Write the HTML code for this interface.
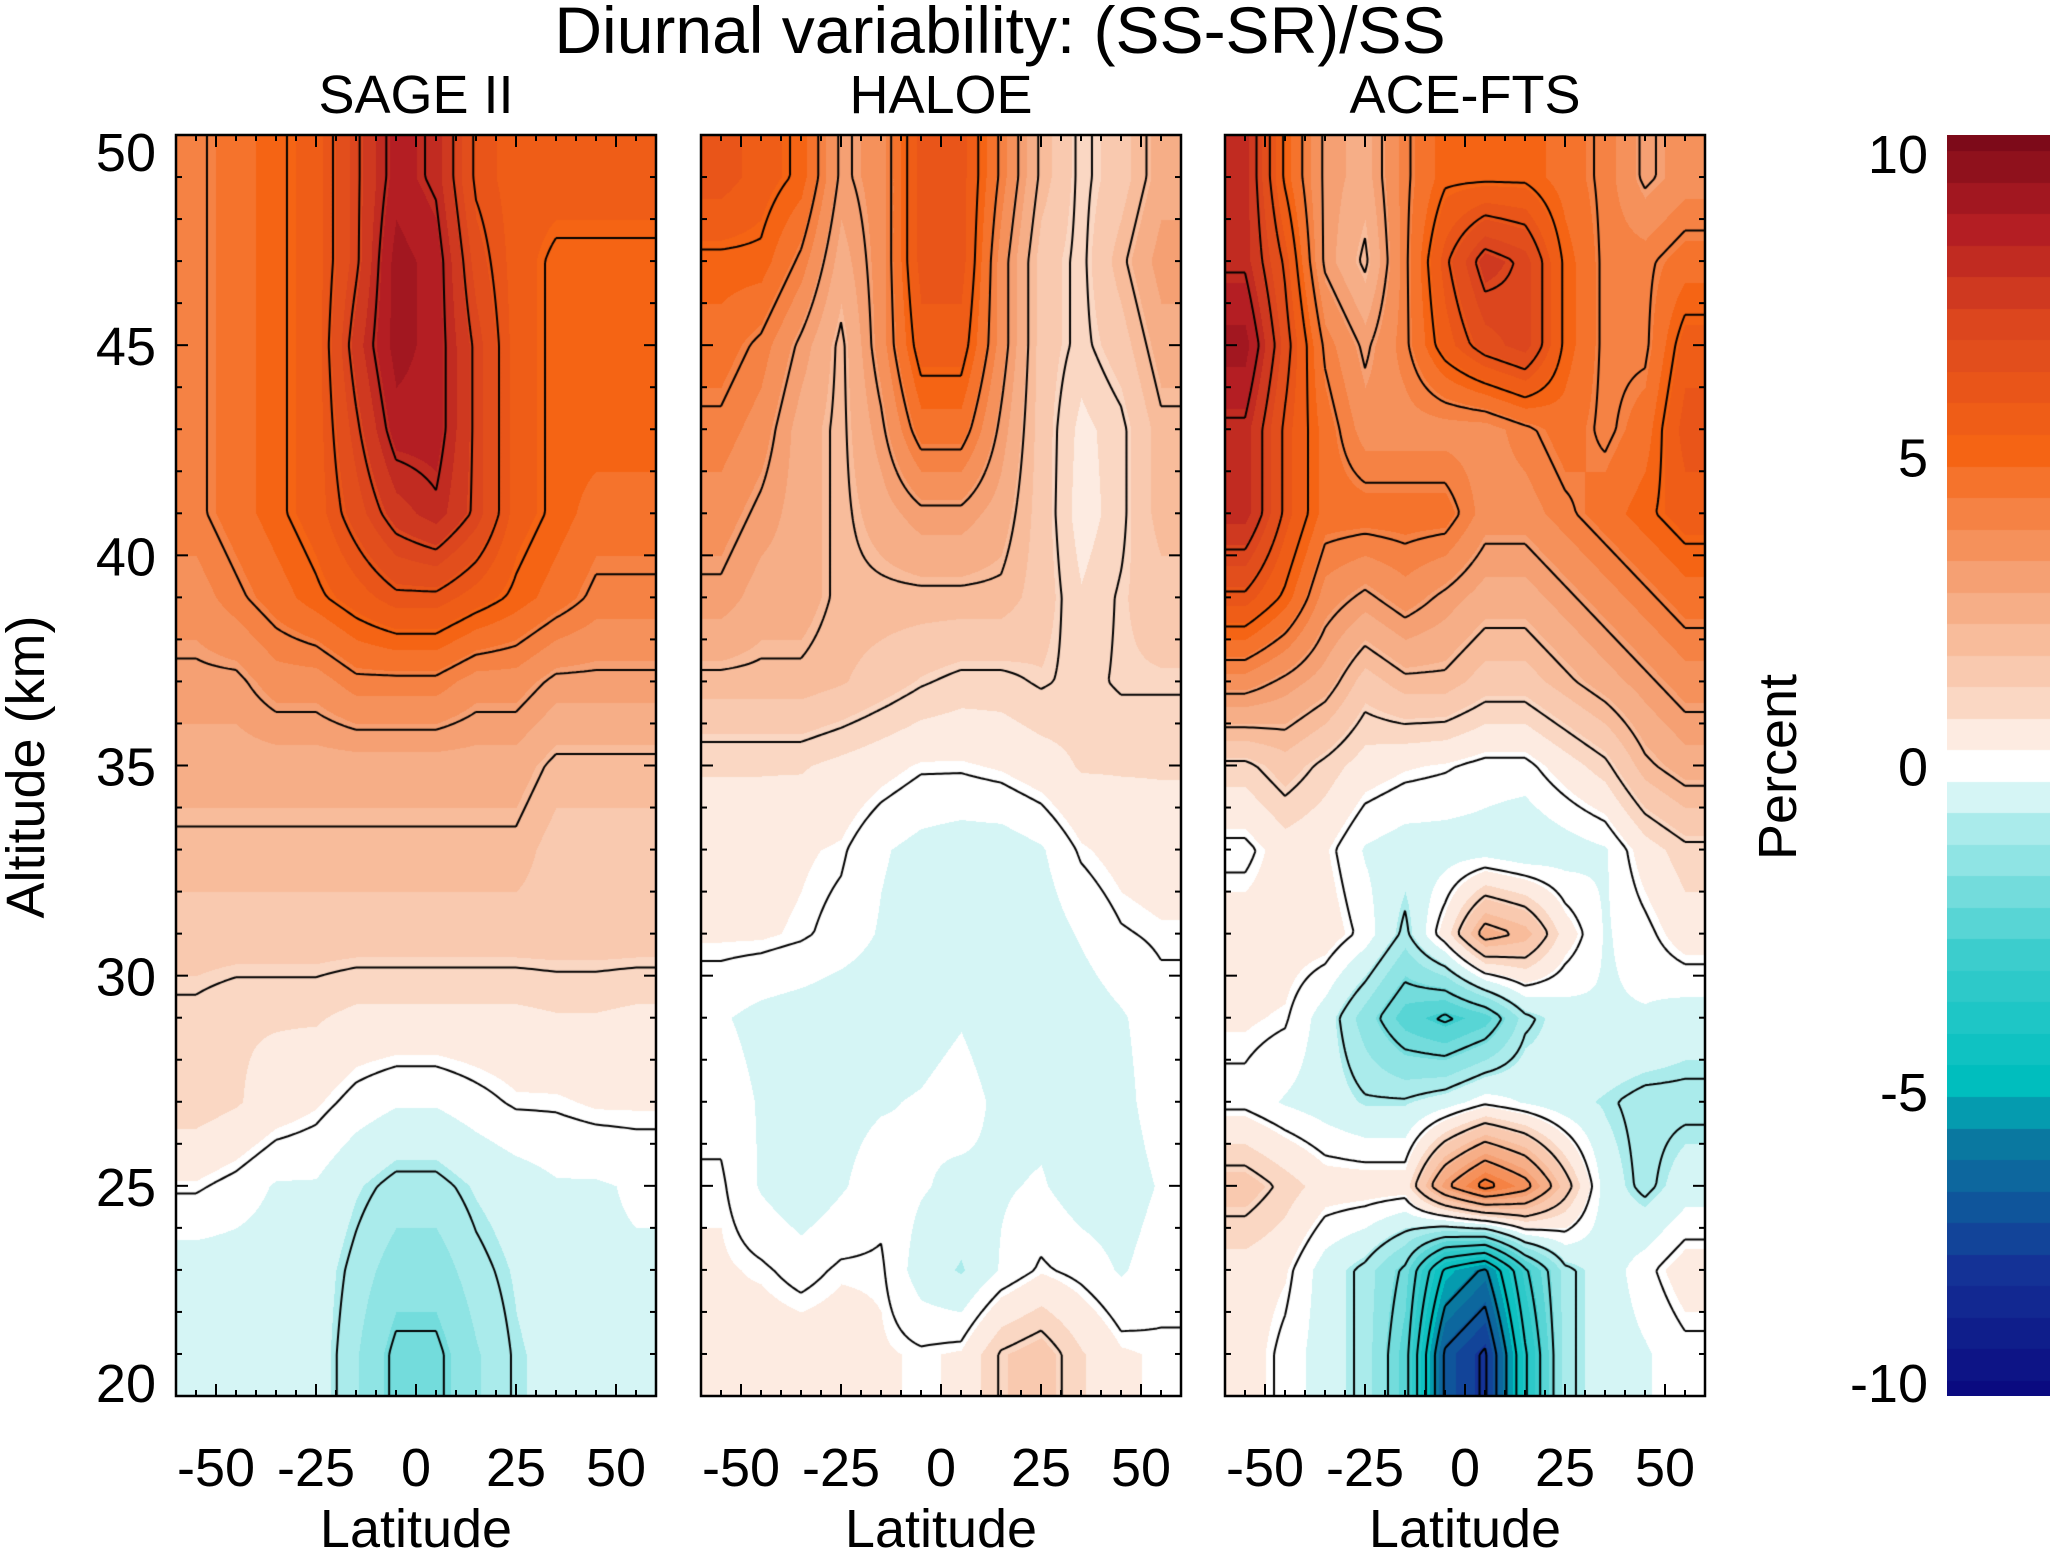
<!DOCTYPE html>
<html><head><meta charset="utf-8"><style>
body{margin:0;background:#fff;}
#wrap{position:relative;width:2050px;height:1551px;overflow:hidden;font-family:"Liberation Sans",sans-serif;color:#000;}
.t{position:absolute;white-space:nowrap;}
canvas{position:absolute;}
</style></head><body>
<div id="wrap">
<div class="t" style="left:0;width:2000px;text-align:center;top:-8px;font-size:66px;">Diurnal variability: (SS-SR)/SS</div>
<div class="t" style="left:26px;top:767px;font-size:54px;transform:translate(-50%,-50%) rotate(-90deg);">Altitude (km)</div>
<div class="t" style="left:1778px;top:767px;font-size:54px;transform:translate(-50%,-50%) rotate(-90deg);">Percent</div>
<canvas id="cb" width="103" height="1261" style="left:1947px;top:135px;"></canvas>
<svg id="svg" width="2050" height="1551" style="position:absolute;left:0;top:0"></svg>
</div>
<script>
const lats=[-55,-45,-35,-25,-15,-5,5,15,25,35,45,55];
const alts=[49,47,45,43,41,39,37,35,33,31,29,27,25,23,21];
const sage=[
[4,4.5,5,5.5,7,8.5,8,6,5.5,5.5,5.5,5.5],
[4,4.5,5,5.5,7,9,8.5,6.5,5.5,5,5,5],
[4,4.5,5,5.5,7.5,9,8.5,7,5.5,5,5,5],
[4,4.5,5,5.5,7,8.5,8.5,7,5.5,5,5,5],
[4,4.5,5,5.5,6.5,7.5,8,7,5.5,5,4.5,4.5],
[3.5,4,4.5,5,5.5,6,6,5.5,5,4.5,4,4],
[3,3,3.5,3.5,4,4,4,3.5,3.5,3,3,3],
[2.5,2.5,2.5,2.5,2.5,2.5,2.5,2.5,2.5,2,2,2],
[2,2,2,2,2,2,2,2,2,1.5,1.5,1.5],
[1.5,1.5,1.5,1.5,1.5,1.5,1.5,1.5,1.5,1.5,1.5,1.5],
[1,0.8,0.8,0.8,0.6,0.6,0.6,0.6,0.6,0.7,0.7,0.6],
[1,0.8,0.5,0.3,0,-0.2,-0.2,0,0.2,0.2,0.3,0.3],
[0.2,0,-0.3,-0.3,-0.7,-1,-1,-0.7,-0.5,-0.3,-0.3,-0.2],
[-0.5,-0.5,-0.5,-0.5,-1,-1.5,-1.5,-1,-0.7,-0.5,-0.3,-0.3],
[-0.5,-0.3,-0.5,-0.5,-1.2,-2,-2,-1.3,-0.8,-0.6,-0.4,-0.4]];
const haloe=[
[6,5.5,5,3,3.5,6,6,4,2,1,1.5,2.5],
[5,5,4,2.5,3.5,6,6,3.5,1.5,1,2,3],
[4.5,4,3,2,3.5,5.5,5.5,3.5,1.5,1,1.5,2.5],
[4,3.5,2.5,2,3,4.5,4.5,3,1.5,0.6,1,2],
[3.5,3,2.5,2,2.5,3,3,2.5,1.5,0.5,1,2],
[3,2.5,2.5,2,2,2,2,2,1.5,0.8,1.2,1.5],
[2,2,2,1.8,1.5,1.2,1,1,1.2,1,1.2,1.2],
[0.8,0.8,0.8,0.6,0.4,0.2,0.2,0.3,0.5,0.8,0.8,0.8],
[0.4,0.4,0.3,0.2,-0.2,-0.4,-0.5,-0.5,-0.3,0.2,0.4,0.5],
[0.3,0.3,0.2,0,-0.3,-0.5,-0.5,-0.6,-0.5,-0.2,0.1,0.2],
[-0.2,-0.4,-0.5,-0.6,-0.6,-0.5,-0.3,-0.6,-0.6,-0.5,-0.3,0],
[0,-0.3,-0.6,-0.4,-0.3,-0.2,0,-0.4,-0.4,-0.6,-0.4,0],
[0.2,-0.3,-0.6,-0.3,0,-0.2,-0.4,-0.3,-0.2,-0.5,-0.5,-0.2],
[0.3,0.2,0,0.2,0.2,-0.5,-0.8,-0.2,0.2,0,-0.3,0],
[0.3,0.5,0.5,0.5,0.3,0.2,0.3,1.2,1.5,0.8,0.3,0.2]];
const ace=[
[8,5,3,2.5,4,5,5,5,4.5,4,3,3.5],
[8,6,3,2,4,6,7.5,7,5,4,4,4.5],
[9,6.5,4,3,4,5.5,6.5,7,5,4,4,5.5],
[8,6,4.5,3.5,3.5,3.5,3.5,4,4.5,4,4.5,6],
[8,6,4.5,4.5,4.5,4.5,3.5,3.5,4,4.5,5,5.5],
[6,5,3.5,3,3.5,3,2.5,2.5,3,3.5,4,4.5],
[3.5,3,2.5,1.5,2,2,1.5,1.5,2,2.5,3,3.5],
[1,1.5,1,0.5,0.3,0.2,0,0,0.5,1,2,2.5],
[0,0.5,0.3,-0.3,-0.5,-0.5,-0.5,-0.7,-0.5,-0.3,0.5,1],
[0.5,0.5,0.5,0,-1,0.5,2.5,2,0.5,-0.3,0,0.5],
[0.3,0.2,-0.5,-1.5,-2.5,-3,-2.5,-1,-0.5,-0.3,-0.3,-0.5],
[0,-0.3,-0.5,-0.8,-0.8,-0.5,0,-0.3,-0.6,-0.8,-1,-1],
[1.5,1,0.5,0.5,0.5,3,4.5,3.5,1.5,-0.5,-1,-0.5],
[0.5,0.3,-0.5,-1,-2,-5,-6,-3,-1,-0.5,0,0.5],
[0.5,0,-0.5,-1,-2.5,-7,-8,-4,-1,-0.5,-0.3,0]];
const panelNames=["SAGE II","HALOE","ACE-FTS"];
const panelData=[sage,haloe,ace];
const xTicks=[-50,-25,0,25,50];
const yTicks=[20,25,30,35,40,45,50];
const cbTicks=[10,5,0,-5,-10];
const contourLevels=[-9,-8,-7,-6,-5,-4,-3,-2,-1,0,1,2,3,4,5,6,7,8,9];

const stops=[[-10,[10,10,128]],[-8,[20,50,150]],[-6,[10,120,160]],[-5,[0,190,190]],[-3,[60,205,205]],[-1,[170,235,235]],[0,[255,255,255]],[1,[250,215,195]],[3,[245,160,115]],[5,[245,100,20]],[7,[220,70,30]],[8.5,[180,30,35]],[10,[125,10,25]]];
function col(v){v=Math.max(-10,Math.min(10,Math.round(v*2)/2));
 for(let i=0;i<stops.length-1;i++){const a=stops[i],b=stops[i+1];if(v<=b[0]){const t=(v-a[0])/(b[0]-a[0]);return a[1].map((c,k)=>Math.round(c+(b[1][k]-c)*t));}}
 return stops[stops.length-1][1];}
const PX=[176,701,1225],PW=480,PT=135,PH=1261;
const xs=lat=>(lat+60)/120*PW, ys=alt=>(50-alt)/30*PH;
function sample(d,lat,alt){
 let fi=(lat-lats[0])/10, fj=(alts[0]-alt)/2;
 fi=Math.max(0,Math.min(lats.length-1,fi));fj=Math.max(0,Math.min(alts.length-1,fj));
 const i0=Math.min(Math.floor(fi),lats.length-2),j0=Math.min(Math.floor(fj),alts.length-2);
 const ti=fi-i0,tj=fj-j0;
 return d[j0][i0]*(1-ti)*(1-tj)+d[j0][i0+1]*ti*(1-tj)+d[j0+1][i0]*(1-ti)*tj+d[j0+1][i0+1]*ti*tj;}
const wrap=document.getElementById('wrap');
const svg=document.getElementById('svg');const NS="http://www.w3.org/2000/svg";
function line(x1,y1,x2,y2,w){const l=document.createElementNS(NS,'line');l.setAttribute('x1',x1);l.setAttribute('y1',y1);l.setAttribute('x2',x2);l.setAttribute('y2',y2);l.setAttribute('stroke','#000');l.setAttribute('stroke-width',w);


svg.appendChild(l);}
function txt(s,x,y,size,anchor,name){const t=document.createElementNS(NS,'text');t.textContent=s;t.setAttribute('x',x);t.setAttribute('y',y);t.setAttribute('font-size',size);t.setAttribute('text-anchor',anchor);t.setAttribute('font-family','Liberation Sans, sans-serif');


svg.appendChild(t);}
panelData.forEach((d,p)=>{
 const c=document.createElement('canvas');c.width=PW;c.height=PH;c.style.left=PX[p]+'px';c.style.top=PT+'px';
 
 
 wrap.insertBefore(c,svg);
 const ctx=c.getContext('2d');const img=ctx.createImageData(PW,PH);
 for(let y=0;y<PH;y++){const alt=50-y/PH*30;for(let x=0;x<PW;x++){const lat=-60+x/PW*120;const cc=col(sample(d,lat,alt));const k=(y*PW+x)*4;img.data[k]=cc[0];img.data[k+1]=cc[1];img.data[k+2]=cc[2];img.data[k+3]=255;}}
 ctx.putImageData(img,0,0);
 const S=4,nx=Math.ceil(PW/S)+1,ny=Math.ceil(PH/S)+1,g=[];
 for(let j=0;j<ny;j++){g.push([]);for(let i=0;i<nx;i++)g[j].push(sample(d,-60+i*S/PW*120,50-j*S/PH*30));}
 ctx.strokeStyle='#000';ctx.lineWidth=2;ctx.beginPath();
 contourLevels.forEach(L0=>{
  const L=L0+0.137;
  for(let j=0;j<ny-1;j++)for(let i=0;i<nx-1;i++){
   const v=[g[j][i],g[j][i+1],g[j+1][i+1],g[j+1][i]];
   const P=[[i,j],[i+1,j],[i+1,j+1],[i,j+1]];const pts=[];
   for(let e=0;e<4;e++){const a=v[e]-L,b=v[(e+1)%4]-L;if((a<0)!==(b<0)){const t=a/(a-b);const A=P[e],B=P[(e+1)%4];pts.push([(A[0]+(B[0]-A[0])*t)*S,(A[1]+(B[1]-A[1])*t)*S]);}}
   for(let k=0;k+1<pts.length;k+=2){ctx.moveTo(pts[k][0],pts[k][1]);ctx.lineTo(pts[k+1][0],pts[k+1][1]);}
  }});
 ctx.stroke();
 const x0=PX[p];
 const r=document.createElementNS(NS,'rect');r.setAttribute('x',x0);r.setAttribute('y',PT);r.setAttribute('width',PW);r.setAttribute('height',PH);r.setAttribute('fill','none');r.setAttribute('stroke','#000');r.setAttribute('stroke-width',2.5);
 
 
 svg.appendChild(r);
 for(let a=20;a<=50;a++){const y=PT+ys(a),L=a%5==0?12:6;line(x0,y,x0+L,y,2);line(x0+PW,y,x0+PW-L,y,2);}
 for(let la=-60;la<=60;la+=5){const x=x0+xs(la),L=la%25==0?12:6;line(x,PT,x,PT+L,2);line(x,PT+PH,x,PT+PH-L,2);}
 xTicks.forEach(v=>txt(String(v),x0+xs(v),1486,54,'middle','x-tick-label'));
 txt('Latitude',x0+PW/2,1547,54,'middle','x-axis-title');
 txt(panelNames[p],x0+PW/2,113,54,'middle','panel-title');
});
yTicks.forEach(v=>{let y=PT+ys(v)+20;if(v==50)y+=16;if(v==20)y-=14;txt(String(v),156,y,54,'end','y-tick-label');});
cbTicks.forEach(v=>{let y=PT+(10-v)/20*1261+20;if(v==10)y+=18;if(v==-10)y-=14;if(v==5)y+=6;if(v==-5)y+=10;txt(String(v),1928,y,54,'end','colorbar-tick-label');});
const cb=document.getElementById('cb').getContext('2d');
for(let y=0;y<1261;y++){const v=10-y/1261*20;const cc=col(v);cb.fillStyle=`rgb(${cc[0]},${cc[1]},${cc[2]})`;cb.fillRect(0,y,103,1);}
</script>
</body></html>
